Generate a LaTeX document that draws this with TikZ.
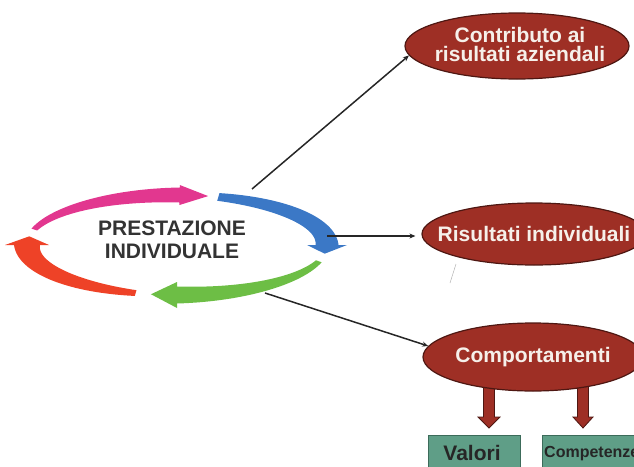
\documentclass[tikz,border=0pt]{standalone}
\usepackage{fontspec}
\setmainfont{Liberation Sans}
\usetikzlibrary{shapes.geometric,arrows.meta,calc}
\definecolor{cpink}{HTML}{E2378F}
\definecolor{cblue}{HTML}{3B78C6}
\definecolor{cgreen}{HTML}{6DBE45}
\definecolor{cred}{HTML}{EE4227}
\definecolor{ellfill}{HTML}{9E2F25}
\definecolor{elldraw}{HTML}{4E1712}
\definecolor{boxfill}{HTML}{5F9E87}
\definecolor{boxdraw}{HTML}{3C6B5A}
\definecolor{txtdark}{HTML}{333333}
\definecolor{txtlight}{HTML}{F6F0EA}
\newcommand\cyclearrow[7]{%
 \fill[#1] plot[domain=#2:#3,samples=40,variable=\t]
   ({177+(150+(#5+(#6-(#5))*(\t-(#2))/(#3-(#2))))*cos(\t)},{245-(50+(#5+(#6-(#5))*(\t-(#2))/(#3-(#2))))*sin(\t)})
   -- ({177+(150+#7)*cos(#3)},{245-(50+#7)*sin(#3)})
   -- ({177+150*cos(#4)},{245-50*sin(#4)})
   -- ({177+(150-#7)*cos(#3)},{245-(50-#7)*sin(#3)})
   -- plot[domain=#3:#2,samples=40,variable=\t]
   ({177+(150-(#5+(#6-(#5))*(\t-(#2))/(#3-(#2))))*cos(\t)},{245-(50-(#5+(#6-(#5))*(\t-(#2))/(#3-(#2))))*sin(\t)})
   -- cycle;}
\tikzset{
  ell/.style={ellipse, fill=ellfill, draw=elldraw, line width=1.2pt, inner sep=0pt},
  elltext/.style={text=txtlight, font=\bfseries\fontsize{21}{19}\selectfont, align=center, inner sep=0pt},
  conn/.style={draw=black!85, line width=1.5pt, -{Stealth[length=6pt,width=5pt]}},
  boxnode/.style={rectangle, fill=boxfill, draw=boxdraw, line width=1pt, anchor=north west, inner sep=0pt},
  downarr/.style={fill=ellfill, draw=elldraw, line width=0.8pt},
}
\begin{document}
\begin{tikzpicture}[x=1pt,y=-1pt]
\useasboundingbox (0,0) rectangle (634,466);
\clip (0,0) rectangle (634,466);
% cycle arrows
\cyclearrow{cpink}{162}{89}{78}{3}{7.5}{10}
\cyclearrow{cblue}{74}{0}{-10}{4}{11.5}{20}
\cyclearrow{cgreen}{-19}{-90}{-100}{3}{8.5}{13}
\cyclearrow{cred}{-106}{-180}{-190}{3}{13}{22}
\node[font=\bfseries\fontsize{21}{23}\selectfont, text=txtdark, align=center, inner sep=0pt] (center) at (172,240) {PRESTAZIONE\\INDIVIDUALE};
% ellipses
\node[ell, minimum width=224pt, minimum height=66pt] (e1) at (517,46) {};
\node[ell, minimum width=224pt, minimum height=62pt] (e2) at (534,234) {};
% down arrows (behind e3)
\coordinate (a1) at (489,380);
\coordinate (a2) at (583,380);
\filldraw[downarr] ($(a1)+(-5.5,0)$) -- ($(a1)+(5.5,0)$) -- ($(a1)+(5.5,37)$) -- ($(a1)+(11,37)$) -- ($(a1)+(0,48)$) -- ($(a1)+(-11,37)$) -- ($(a1)+(-5.5,37)$) -- cycle;
\filldraw[downarr] ($(a2)+(-5.5,0)$) -- ($(a2)+(5.5,0)$) -- ($(a2)+(5.5,37)$) -- ($(a2)+(10,37)$) -- ($(a2)+(0,48)$) -- ($(a2)+(-10,37)$) -- ($(a2)+(-5.5,37)$) -- cycle;
\node[ell, minimum width=220pt, minimum height=68pt] (e3) at (533,357) {};
\node[elltext] (t1) at (520,44) {Contributo ai\\risultati aziendali};
\node[elltext] (t2) at (534,234) {Risultati individuali};
\node[elltext] (t3) at (533,357) {Comportamenti};
% connectors
\coordinate (s1) at (252,189);
\coordinate (s2) at (327,236);
\coordinate (s3) at (265,293);
\draw[conn] (s1) -- (e1.185);
\draw[conn, shorten >=6pt] (s2) -- (s2 -| e2.west);
\draw[conn] (s3) -- (e3.174);
% scan mark
\coordinate (m1) at (456,264);
\coordinate (m2) at (450,283);
\draw[gray!60, line width=0.5pt] (m1) -- (m2);
% boxes
\node[boxnode, minimum width=92pt, minimum height=40pt] (v) at (428,435) {};
\node[inner sep=0pt, font=\bfseries\fontsize{21}{21}\selectfont, text=black!85] (vt) at (472,453) {Valori};
\node[boxnode, minimum width=100pt, minimum height=40pt] (c) at (542,435) {};
\node[anchor=west, inner sep=0pt, font=\bfseries\fontsize{16}{16}\selectfont, text=black!85] (ct) at (544,454) {Competenze};
\end{tikzpicture}
\end{document}
